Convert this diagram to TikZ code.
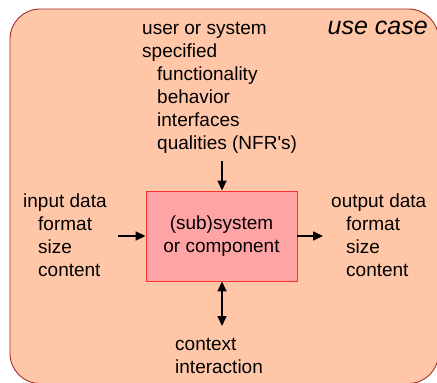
\documentclass[tikz,border=0pt]{standalone}
\usepackage{fontspec}
\setmainfont{Liberation Sans}[Ligatures=TeXOff]
\usetikzlibrary{arrows.meta}

\definecolor{casefill}{RGB}{255,198,168}
\definecolor{caseline}{RGB}{165,45,45}
\definecolor{boxfill}{RGB}{255,164,164}
\definecolor{boxline}{RGB}{250,50,50}
\newcommand{\ind}{\hspace*{15pt}}
\tikzset{
  txt/.style={inner sep=0pt, align=left, font=\fontsize{19}{23}\selectfont},
  flow/.style={line width=1.6pt, -{Triangle[length=10pt,width=9pt]}},
  bothflow/.style={line width=1.6pt, {Triangle[length=10pt,width=9pt]}-{Triangle[length=10pt,width=9pt]}},
}

\begin{document}
\begin{tikzpicture}[x=1pt,y=-1pt]
            \useasboundingbox (0,0) rectangle (437,383);
            % use case frame
            \draw [fill=casefill, draw=caseline, line width=0.9pt, rounded corners=30pt] (10,9) rectangle (438.5,383.5);
            \node [txt, anchor=base east, font=\fontsize{25}{30}\selectfont\itshape] (usecase) at (428,34) {use case};
            % system
            \node [draw=boxline, fill=boxfill, line width=0.9pt, minimum width=151pt, minimum height=90pt, txt, align=center] (sys) at (221.5,236) {(sub)system\\or component};
            % surrounding texts (base = last line)
            \node [txt, anchor=base west] (spec) at (142,149) {user or system\\specified\\\ind functionality\\\ind behavior\\\ind interfaces\\\ind qualities (NFR's)};
            \node [txt, anchor=base west] (input) at (23,276) {input data\\\ind format\\\ind size\\\ind content};
            \node [txt, anchor=base west] (output) at (331,276) {output data\\\ind format\\\ind size\\\ind content};
            \node [txt, anchor=base west] (context) at (175,373) {context\\interaction};
            % connectors
            \coordinate (specend) at (222,161);
            \coordinate (inend) at (118,236);
            \coordinate (outend) at (323,236);
            \coordinate (ctxend) at (222,326);
            \draw [flow] (specend) -- (sys.north -| specend);
            \draw [flow] (inend) -- (sys.west |- inend);
            \draw [flow] (sys.east |- outend) -- (outend);
            \draw [bothflow] (sys.south -| ctxend) -- (ctxend);
        \end{tikzpicture}
\end{document}
